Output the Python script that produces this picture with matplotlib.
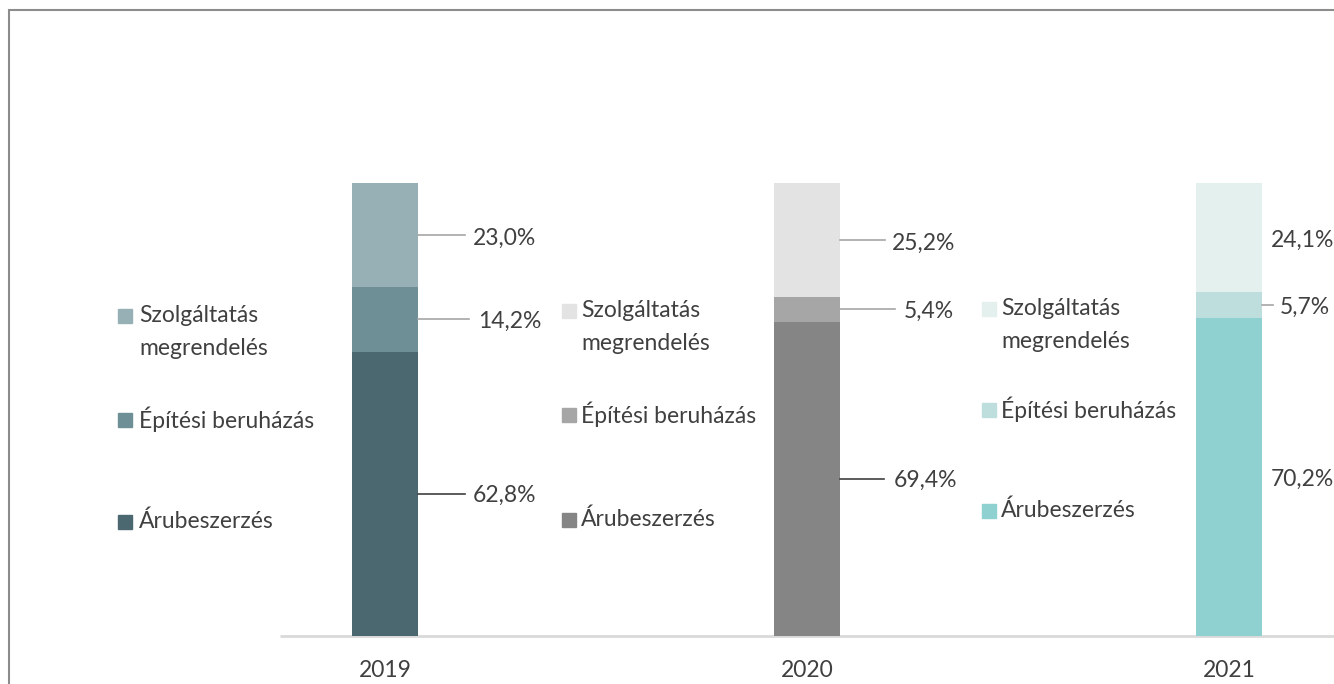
import matplotlib
matplotlib.use("Agg")
import matplotlib.pyplot as plt
from matplotlib.patches import Rectangle

# ---- data ----
years = ["2019", "2020", "2021"]
categories = ["Árubeszerzés", "Építési beruházás", "Szolgáltatás\nmegrendelés"]
aru = [62.8, 69.4, 70.2]
epitesi = [14.2, 5.4, 5.7]
szolg = [23.0, 25.2, 24.1]
labels_aru = ["62,8%", "69,4%", "70,2%"]
labels_epitesi = ["14,2%", "5,4%", "5,7%"]
labels_szolg = ["23,0%", "25,2%", "24,1%"]

# colours per year: (Áru, Építési, Szolg)
colors = [
    ("#4B6770", "#6F8F96", "#97B0B6"),
    ("#858585", "#A6A6A6", "#E3E3E3"),
    ("#8FD0D0", "#BEDEDE", "#E3F0EE"),
]

plt.rcParams['font.family'] = ['Lato', 'DejaVu Sans']
TXT = "#404040"
FS = 16.5

W, H = 1334, 684
fig = plt.figure(figsize=(W / 100, H / 100), dpi=100)

# axes: baseline at y=636px, top (100%) at 183px, x from 280px to 1334px
ax = fig.add_axes([280 / W, (H - 636) / H, (W - 280) / W, (636 - 183) / H])
ppu = 422.0  # pixels per x unit
ax.set_xlim((280 - 385) / ppu, (1334 - 385) / ppu)
ax.set_ylim(0, 100)
ppy = (636 - 183) / 100.0  # px per percent


def px_to_x(dpx):
    return dpx / ppu


def py_to_y(ypix):
    return (636 - ypix) / ppy


xs = list(range(len(years)))
bw = 66 / ppu
series = [aru, epitesi, szolg]
for k, vals in enumerate(series):
    bottoms = [sum(series[j][i] for j in range(k)) for i in range(len(years))]
    ax.bar(xs, vals, width=bw, bottom=bottoms,
           color=[colors[i][k] for i in range(len(years))], zorder=2)

# baseline
ax.plot([ax.get_xlim()[0], ax.get_xlim()[1]], [0, 0], color="#D9D9D9", lw=2, zorder=1,
        clip_on=False, solid_capstyle="butt")

for s in ax.spines.values():
    s.set_visible(False)
ax.set_xticks(xs)
ax.set_xticklabels(years, fontsize=FS, color=TXT)
ax.tick_params(axis='x', length=0, pad=17)
ax.set_yticks([])

# value labels: (text left offset px from bar centre, leader line end px, line colour)
label_layout = [
    # 2019
    [(88, 80, "#404040"), (93, 84, "#A6A6A6"), (88, 80, "#A6A6A6")],
    # 2020
    [(87, 77, "#404040"), (97, 88, "#A6A6A6"), (85, 78, "#A6A6A6")],
    # 2021
    [(42, None, None), (51, 44, "#A6A6A6"), (42, None, None)],
]
label_sets = [labels_aru, labels_epitesi, labels_szolg]
yoff_px = [2, 2, 3]
for i in xs:
    base = 0
    for k, vals in enumerate(series):
        mid = base + vals[i] / 2
        base += vals[i]
        tx, lend, lc = label_layout[i][k]
        if lend is not None:
            ax.plot([i + bw / 2, i + px_to_x(lend)], [mid, mid], color=lc, lw=1.2,
                    clip_on=False, zorder=3)
        ax.text(i + px_to_x(tx), mid - yoff_px[k] / ppy, label_sets[k][i], fontsize=FS,
                color=TXT, va="center", ha="left", clip_on=False)

# per-bar legends (square x offset px from bar centre, text offset, y pixels)
legend_layout = [
    (-266, -246, [521, 419, 315]),
    (-244, -226, [519, 414, 310]),
    (-246, -228, [510, 409, 308]),
]
for i in xs:
    sq, tx, ys = legend_layout[i]
    for k, cat in enumerate(categories):
        ypix = ys[k]
        ax.plot([i + px_to_x(sq + 6)], [py_to_y(ypix + 1)], marker="s", markersize=9.5,
                color=colors[i][k], clip_on=False, linestyle="none")
        for n, line in enumerate(cat.split("\n")):
            ax.text(i + px_to_x(tx), py_to_y(ypix + 33 * n), line, fontsize=FS, color=TXT,
                    va="center", ha="left", clip_on=False)

# outer border (left and top visible)
fig.patches.append(Rectangle((9 / W, -0.1), 1.2, 1 - 10 / H + 0.1,
                             transform=fig.transFigure, fill=False,
                             edgecolor="#8C8C8C", lw=1.5))

fig.savefig("out.png", dpi=100)
